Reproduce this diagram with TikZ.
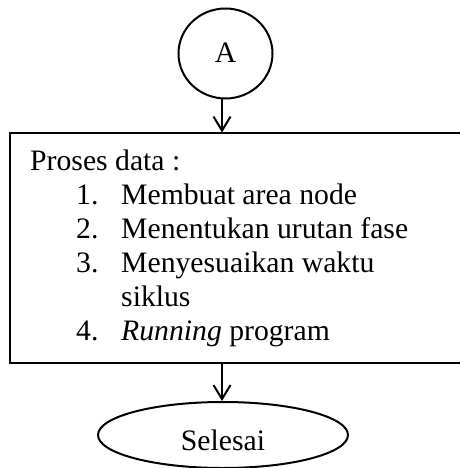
\documentclass[tikz,border=0pt]{standalone}
\usepackage{fontspec}
\setmainfont{Liberation Serif}
\usetikzlibrary{arrows.meta,shapes.geometric}
\begin{document}
\begin{tikzpicture}[x=1pt,y=-1pt,
  outline/.style={draw=black,line width=2pt},
  flow/.style={line width=2pt,-{Straight Barb[length=14pt,width=17pt,line width=2pt]}},
  bigfont/.style={font=\fontsize{29.7}{34}\selectfont},
  txt/.style={bigfont,inner sep=0pt,anchor=base west}]
\useasboundingbox (0,0) rectangle (459,468);
% connector circle
\node[outline,ellipse,minimum width=94pt,minimum height=90pt,inner sep=0pt] (a) at (225.5,53.5) {};
\node[bigfont,inner sep=0pt,anchor=base] (alabel) at (225.5,63) {A};
% process box (right side runs past the page edge)
\coordinate (boxtl) at (9.5,132.5);
\coordinate (boxbr) at (470,363);
\draw[outline] (boxbr |- boxtl) -- (boxtl) -- (boxtl |- boxbr) -- (boxbr);
\coordinate (boxtop) at (222,132.5);
\coordinate (boxbot) at (222,363);
\node[txt] (t0) at (30,170.5) {Proses data :};
\node[txt] (n1) at (76,204.5) {1.};
\node[txt] (t1) at (121,204.5) {Membuat area node};
\node[txt] (n2) at (76,238.5) {2.};
\node[txt] (t2) at (121,238.5) {Menentukan urutan fase};
\node[txt] (n3) at (76,272.5) {3.};
\node[txt] (t3) at (121,272.5) {Menyesuaikan waktu};
\node[txt] (t3b) at (121,306.5) {siklus};
\node[txt] (n4) at (76,340.5) {4.};
\node[txt] (t4) at (121,340.5) {\textit{Running} program};
% terminator
\node[outline,ellipse,minimum width=250pt,minimum height=66pt,inner sep=0pt] (end) at (223,435) {};
\node[bigfont,inner sep=0pt,anchor=base] (endlabel) at (223,450) {Selesai};
% connectors
\draw[flow] (a.south -| boxtop) -- (boxtop);
\draw[flow] (boxbot) -- (end.north -| boxbot);
\end{tikzpicture}
\end{document}
